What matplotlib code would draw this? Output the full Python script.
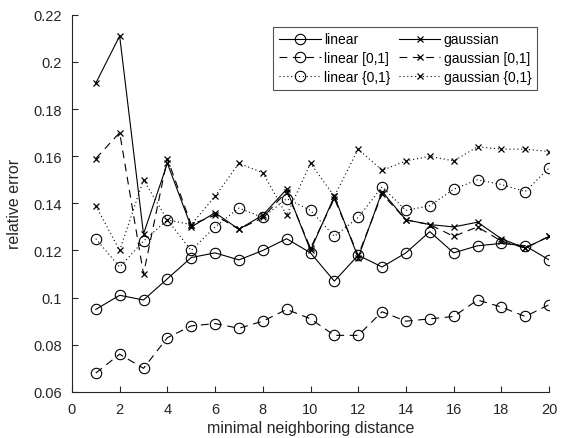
import matplotlib
matplotlib.use("Agg")
import matplotlib.pyplot as plt

x = list(range(1, 21))
linear = [0.095, 0.101, 0.099, 0.108, 0.117, 0.119, 0.116, 0.120, 0.125, 0.119,
          0.107, 0.118, 0.113, 0.119, 0.128, 0.119, 0.122, 0.123, 0.122, 0.116]
linear_01 = [0.068, 0.076, 0.070, 0.083, 0.088, 0.089, 0.087, 0.090, 0.095, 0.091,
             0.084, 0.084, 0.094, 0.090, 0.091, 0.092, 0.099, 0.096, 0.092, 0.097]
linear_set01 = [0.125, 0.113, 0.124, 0.133, 0.120, 0.130, 0.138, 0.134, 0.142, 0.137,
                0.126, 0.134, 0.147, 0.137, 0.139, 0.146, 0.150, 0.148, 0.145, 0.155]
gaussian = [0.191, 0.211, 0.127, 0.157, 0.130, 0.136, 0.129, 0.135, 0.146, 0.120,
            0.143, 0.117, 0.145, 0.133, 0.131, 0.130, 0.132, 0.125, 0.121, 0.126]
gaussian_01 = [0.159, 0.170, 0.110, 0.159, 0.131, 0.135, 0.129, 0.134, 0.145, 0.121,
               0.142, 0.118, 0.144, 0.133, 0.131, 0.126, 0.130, 0.124, 0.121, 0.126]
gaussian_set01 = [0.139, 0.120, 0.150, 0.133, 0.131, 0.143, 0.157, 0.153, 0.135, 0.157,
                  0.143, 0.163, 0.154, 0.158, 0.160, 0.158, 0.164, 0.163, 0.163, 0.162]

xticks = [0, 2, 4, 6, 8, 10, 12, 14, 16, 18, 20]
yticks = [0.06, 0.08, 0.1, 0.12, 0.14, 0.16, 0.18, 0.2, 0.22]
ytick_labels = ["0.06", "0.08", "0.1", "0.12", "0.14", "0.16", "0.18", "0.2", "0.22"]

plt.rcParams['font.family'] = ['Liberation Sans', 'DejaVu Sans']

fig = plt.figure(figsize=(5.62, 4.39), dpi=100)
ax = fig.add_axes([0.128, 0.105, 0.849, 0.859])

lw = 0.8
cms = dict(marker='o', markersize=7.5, markerfacecolor='none', markeredgewidth=0.8)
xms = dict(marker='x', markersize=5, markeredgewidth=0.9)
dash = (0, (7, 5))
dot = (0, (1, 2.5))

ax.plot(x, linear, color='black', linestyle='-', lw=lw, label='linear', **cms)
ax.plot(x, linear_01, color='black', linestyle=dash, lw=lw, label='linear [0,1]', **cms)
ax.plot(x, linear_set01, color='black', linestyle=dot, lw=lw, label='linear {0,1}', **cms)
ax.plot(x, gaussian, color='black', linestyle='-', lw=lw, label='gaussian', **xms)
ax.plot(x, gaussian_01, color='black', linestyle=dash, lw=lw, label='gaussian [0,1]', **xms)
ax.plot(x, gaussian_set01, color='black', linestyle=dot, lw=lw, label='gaussian {0,1}', **xms)

ax.set_xlim(0, 20)
ax.set_ylim(0.06, 0.22)
ax.set_xticks(xticks)
ax.set_yticks(yticks)
ax.set_yticklabels(ytick_labels)
for s in ['top', 'right']:
    ax.spines[s].set_visible(False)
for s in ['left', 'bottom']:
    ax.spines[s].set_color('#262626')
    ax.spines[s].set_linewidth(0.8)
ax.tick_params(direction='in', length=4, width=0.8, colors='#262626', labelsize=10.5, pad=7)
ax.set_xlabel('minimal neighboring distance', fontsize=11.5, color='#262626', labelpad=3)
ax.set_ylabel('relative error', fontsize=11.5, color='#262626', labelpad=8)

leg = ax.legend(ncol=2, loc='upper right', bbox_to_anchor=(0.975, 0.968), fontsize=10,
                frameon=True, fancybox=False, edgecolor='#262626', handlelength=3.0,
                columnspacing=0.6, handletextpad=0.25, borderpad=0.4, labelspacing=0.35,
                borderaxespad=0)
leg.get_frame().set_linewidth(0.8)

fig.savefig('out.png', dpi=100)
